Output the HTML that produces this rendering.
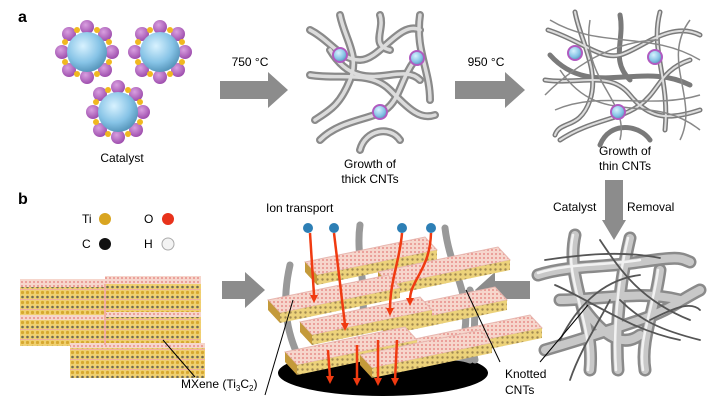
<!DOCTYPE html>
<html><head><style>
body{margin:0;background:#fff;}
svg{display:block;font-family:"Liberation Sans",Arial,sans-serif;}
</style></head><body>
<svg width="711" height="418" viewBox="0 0 711 418" xmlns="http://www.w3.org/2000/svg">
<defs>
<radialGradient id="sph" cx="0.4" cy="0.35" r="0.7"><stop offset="0" stop-color="#d8f2ff"/><stop offset="0.6" stop-color="#86c3e6"/><stop offset="1" stop-color="#4f8fb5"/></radialGradient>
<radialGradient id="pb" cx="0.4" cy="0.35" r="0.7"><stop offset="0" stop-color="#d9a0e0"/><stop offset="1" stop-color="#9a48aa"/></radialGradient>
<pattern id="dots" width="5" height="5" patternUnits="userSpaceOnUse"><rect width="5" height="5" fill="#ecd27a"/><circle cx="2.5" cy="2.5" r="1.2" fill="#a08850"/></pattern>
<pattern id="mx" width="5" height="10" patternUnits="userSpaceOnUse"><rect width="5" height="10" fill="#f0d070"/><circle cx="2.5" cy="2.5" r="1.6" fill="#d6a830"/><circle cx="2.5" cy="7" r="1.3" fill="#6f6a55"/><rect y="9" width="5" height="1" fill="#f2b0a0"/></pattern>
<pattern id="pk" width="4" height="4" patternUnits="userSpaceOnUse"><rect width="4" height="4" fill="#f6d6cc"/><circle cx="2" cy="2" r="1" fill="#e88f8a"/></pattern>
<g id="cat">
<circle cx="0" cy="-25" r="7" fill="url(#pb)"/><circle cx="18" cy="-18" r="7" fill="url(#pb)"/><circle cx="25" cy="0" r="7" fill="url(#pb)"/><circle cx="18" cy="18" r="7" fill="url(#pb)"/>
<circle cx="0" cy="25" r="7" fill="url(#pb)"/><circle cx="-18" cy="18" r="7" fill="url(#pb)"/><circle cx="-25" cy="0" r="7" fill="url(#pb)"/><circle cx="-18" cy="-18" r="7" fill="url(#pb)"/>
<g fill="#f0b820"><circle cx="10" cy="-22" r="3"/><circle cx="22" cy="-10" r="3"/><circle cx="22" cy="10" r="3"/><circle cx="10" cy="22" r="3"/><circle cx="-10" cy="22" r="3"/><circle cx="-22" cy="10" r="3"/><circle cx="-22" cy="-10" r="3"/><circle cx="-10" cy="-22" r="3"/></g>
<circle r="20" fill="url(#sph)"/>
</g>
<g id="slb"><polygon points="0,0 120,-25 132,-12 12,13" fill="url(#pk)" stroke="#e7b7b0" stroke-width="1"/><polygon points="12,13 132,-12 132,-2 12,23" fill="url(#dots)"/><polygon points="0,0 12,13 12,23 0,10" fill="#c49a3a"/></g>
</defs>
<text x="18" y="22" font-size="16" font-weight="bold">a</text>
<text x="18" y="204" font-size="16" font-weight="bold">b</text>

<use href="#cat" x="87" y="52"/><use href="#cat" x="160" y="52"/><use href="#cat" x="118" y="112"/>
<text x="122" y="162" font-size="12" text-anchor="middle">Catalyst</text>

<text x="250" y="66" font-size="12" text-anchor="middle">750 °C</text>
<polygon points="220,81 268,81 268,72 288,90 268,108 268,99 220,99" fill="#8c8c8c"/>
<text x="486" y="66" font-size="12" text-anchor="middle">950 °C</text>
<polygon points="455,81 505,81 505,72 525,90 505,108 505,99 455,99" fill="#8c8c8c"/>

<!-- thick CNTs -->
<g fill="none" stroke="#8a8a8a" stroke-width="8" stroke-linecap="round">
<path d="M310,30 C330,40 340,60 360,60 S400,20 420,30"/>
<path d="M340,15 C345,40 360,55 350,80 S330,110 315,120"/>
<path d="M420,15 C415,50 430,70 430,100"/>
<path d="M310,75 C340,80 370,70 390,90 S420,120 435,115"/>
<path d="M320,140 C340,120 370,120 385,110 S400,80 415,60"/>
<path d="M360,150 C365,130 390,125 400,140"/>
<path d="M330,50 C360,100 400,60 420,80"/>
<path d="M380,15 C385,30 370,45 390,50"/>
</g>
<g fill="none" stroke="#dcdcdc" stroke-width="3.5" stroke-linecap="round">
<path d="M310,30 C330,40 340,60 360,60 S400,20 420,30"/>
<path d="M340,15 C345,40 360,55 350,80 S330,110 315,120"/>
<path d="M420,15 C415,50 430,70 430,100"/>
<path d="M310,75 C340,80 370,70 390,90 S420,120 435,115"/>
<path d="M320,140 C340,120 370,120 385,110 S400,80 415,60"/>
<path d="M360,150 C365,130 390,125 400,140"/>
<path d="M330,50 C360,100 400,60 420,80"/>
<path d="M380,15 C385,30 370,45 390,50"/>
</g>
<g fill="url(#sph)" stroke="#b05bc0" stroke-width="2"><circle cx="340" cy="55" r="7"/><circle cx="417" cy="58" r="7"/><circle cx="380" cy="112" r="7"/></g>
<text x="370" y="168" font-size="12" text-anchor="middle">Growth of</text>
<text x="370" y="183" font-size="12" text-anchor="middle">thick CNTs</text>

<!-- thin CNTs -->
<g fill="none" stroke="#7a7a7a" stroke-width="5" stroke-linecap="round">
<path d="M548,30 C580,40 600,60 620,55 S670,20 700,35"/>
<path d="M575,12 C580,40 600,70 590,100 S560,120 555,135"/>
<path d="M660,12 C650,50 670,80 665,130"/>
<path d="M545,80 C580,85 610,70 630,95 S670,120 700,110"/>
<path d="M560,140 C590,120 620,120 640,105 S660,70 690,60"/>
<path d="M600,145 C610,120 640,125 650,140"/>
<path d="M550,55 C590,100 640,60 690,85"/>
<path d="M620,15 C625,40 610,60 630,80"/>
</g>
<g fill="none" stroke="#ddd" stroke-width="2" stroke-linecap="round">
<path d="M548,30 C580,40 600,60 620,55 S670,20 700,35"/>
<path d="M575,12 C580,40 600,70 590,100 S560,120 555,135"/>
<path d="M660,12 C650,50 670,80 665,130"/>
<path d="M545,80 C580,85 610,70 630,95 S670,120 700,110"/>
<path d="M560,140 C590,120 620,120 640,105 S660,70 690,60"/>
</g>
<g fill="none" stroke="#888" stroke-width="1.5">
<path d="M550,20 C600,50 650,30 700,60"/><path d="M555,110 C600,90 650,110 700,95"/><path d="M590,20 C580,80 630,100 620,140"/><path d="M690,20 C660,60 700,100 680,140"/><path d="M545,95 C580,60 620,40 660,40"/><path d="M560,70 C600,130 650,90 700,130"/>
</g>
<g fill="url(#sph)" stroke="#b05bc0" stroke-width="2"><circle cx="575" cy="53" r="7"/><circle cx="655" cy="57" r="7"/><circle cx="618" cy="112" r="7"/></g>
<text x="625" y="155" font-size="12" text-anchor="middle">Growth of</text>
<text x="625" y="170" font-size="12" text-anchor="middle">thin CNTs</text>

<text x="553" y="211" font-size="12">Catalyst</text>
<text x="627" y="211" font-size="12">Removal</text>
<polygon points="605,180 623,180 623,220 626,220 614,240 602,220 605,220" fill="#8c8c8c"/>

<!-- knotted CNTs -->
<g fill="none" stroke-linecap="round">
<g stroke="#8a8a8a" stroke-width="13">
<path d="M538,275 C570,265 600,268 640,262 S680,258 690,262"/>
<path d="M575,235 C565,280 595,320 590,370"/>
<path d="M630,238 C620,280 615,330 618,370"/>
<path d="M560,300 C600,300 640,290 680,300"/>
<path d="M545,350 C580,340 610,330 640,320 S680,300 700,290"/>
<path d="M660,270 C655,310 640,340 645,370"/>
<path d="M585,310 C600,330 620,350 640,335"/>
</g>
<g stroke="#c8c8c8" stroke-width="8">
<path d="M538,275 C570,265 600,268 640,262 S680,258 690,262"/>
<path d="M575,235 C565,280 595,320 590,370"/>
<path d="M630,238 C620,280 615,330 618,370"/>
<path d="M560,300 C600,300 640,290 680,300"/>
<path d="M545,350 C580,340 610,330 640,320 S680,300 700,290"/>
<path d="M660,270 C655,310 640,340 645,370"/>
<path d="M585,310 C600,330 620,350 640,335"/>
</g>
<g stroke="#f2f2f2" stroke-width="2.5">
<path d="M538,273 C570,263 600,266 640,260"/>
<path d="M573,235 C563,280 593,320 588,370"/>
<path d="M628,238 C618,280 613,330 616,370"/>
<path d="M658,270 C653,310 638,340 643,370"/>
</g>
<g stroke="#555" stroke-width="1.8">
<path d="M545,260 C580,255 620,250 660,258"/><path d="M555,285 C590,300 630,330 680,340"/><path d="M600,240 C620,270 640,300 690,320"/><path d="M560,340 C575,310 600,280 640,275"/><path d="M620,300 C640,320 660,330 700,340"/><path d="M570,380 C580,350 600,320 610,300"/><path d="M650,320 C670,310 690,300 700,310"/>
</g>
</g>

<!-- legend -->
<text x="82" y="223" font-size="12">Ti</text><circle cx="105" cy="219" r="6" fill="#d9a520"/>
<text x="144" y="223" font-size="12">O</text><circle cx="168" cy="219" r="6" fill="#e8321b"/>
<text x="82" y="248" font-size="12">C</text><circle cx="105" cy="244" r="6" fill="#111"/>
<text x="144" y="248" font-size="12">H</text><circle cx="168" cy="244" r="6" fill="#f3f3f3" stroke="#aaa"/>

<!-- MXene stack -->
<g>
<rect x="20" y="279" width="90" height="8" fill="url(#pk)"/>
<rect x="20" y="287" width="90" height="28" fill="url(#mx)"/>
<rect x="105" y="276" width="96" height="8" fill="url(#pk)"/>
<rect x="105" y="284" width="96" height="28" fill="url(#mx)"/>
<rect x="20" y="315" width="85" height="5" fill="url(#pk)"/>
<rect x="20" y="320" width="85" height="26" fill="url(#mx)"/>
<rect x="105" y="312" width="96" height="5" fill="url(#pk)"/>
<rect x="105" y="317" width="96" height="26" fill="url(#mx)"/>
<rect x="70" y="343" width="135" height="5" fill="url(#pk)"/>
<rect x="70" y="348" width="135" height="30" fill="url(#mx)"/>
<line x1="105" y1="284" x2="105" y2="345" stroke="#f2b0a0" stroke-width="2"/>
</g>
<polygon points="222,281 245,281 245,272 265,290 245,308 245,299 222,299" fill="#8c8c8c"/>
<polygon points="530,281 495,281 495,272 475,290 495,308 495,299 530,299" fill="#8c8c8c"/>

<!-- center -->
<text x="266" y="212" font-size="12">Ion transport</text>
<ellipse cx="383" cy="373" rx="105" ry="23" fill="#000"/>
<g fill="none" stroke="#999" stroke-width="7" stroke-linecap="round">
<path d="M360,225 C355,260 370,290 360,330"/><path d="M445,228 C450,270 470,290 465,330"/><path d="M290,265 C282,300 285,330 300,360"/><path d="M420,345 C440,360 460,355 470,360"/><path d="M470,290 C480,320 470,340 475,360"/>
</g>
<use href="#slb" x="305" y="262"/>
<use href="#slb" x="378" y="272"/>
<use href="#slb" x="268" y="300"/>
<use href="#slb" x="375" y="312"/>
<use href="#slb" x="300" y="322"/>
<use href="#slb" x="410" y="340"/>
<use href="#slb" x="285" y="352"/>
<use href="#slb" x="360" y="355"/>
<g stroke="#f03a10" stroke-width="2.5" fill="none">
<path d="M310,233 L314,295"/><path d="M334,233 L345,325"/><path d="M402,233 C400,260 390,280 390,310"/><path d="M431,233 C430,270 410,280 410,300"/>
<path d="M328,350 L330,378"/><path d="M357,345 L357,380"/><path d="M378,340 L378,380"/><path d="M397,340 L395,380"/>
</g>
<g fill="#f03a10"><polygon points="310,295 318,295 314,303"/><polygon points="341,323 349,323 345,331"/><polygon points="386,308 394,308 390,316"/><polygon points="406,298 414,298 410,306"/>
<polygon points="326,376 334,376 330,384"/><polygon points="353,378 361,378 357,386"/><polygon points="374,378 382,378 378,386"/><polygon points="391,378 399,378 395,386"/></g>
<g fill="#2d7fb5"><circle cx="308" cy="228" r="5"/><circle cx="334" cy="228" r="5"/><circle cx="402" cy="228" r="5"/><circle cx="431" cy="228" r="5"/></g>

<line x1="163" y1="340" x2="195" y2="377" stroke="#000"/>
<line x1="293" y1="300" x2="265" y2="395" stroke="#000"/>
<text x="181" y="388" font-size="12">MXene (Ti<tspan font-size="8" dy="3">3</tspan><tspan dy="-3">C</tspan><tspan font-size="8" dy="3">2</tspan><tspan dy="-3">)</tspan></text>
<line x1="466" y1="290" x2="500" y2="362" stroke="#000"/>
<line x1="588" y1="305" x2="540" y2="362" stroke="#000"/>
<text x="505" y="378" font-size="12">Knotted</text>
<text x="505" y="394" font-size="12">CNTs</text>
</svg>
</body></html>
